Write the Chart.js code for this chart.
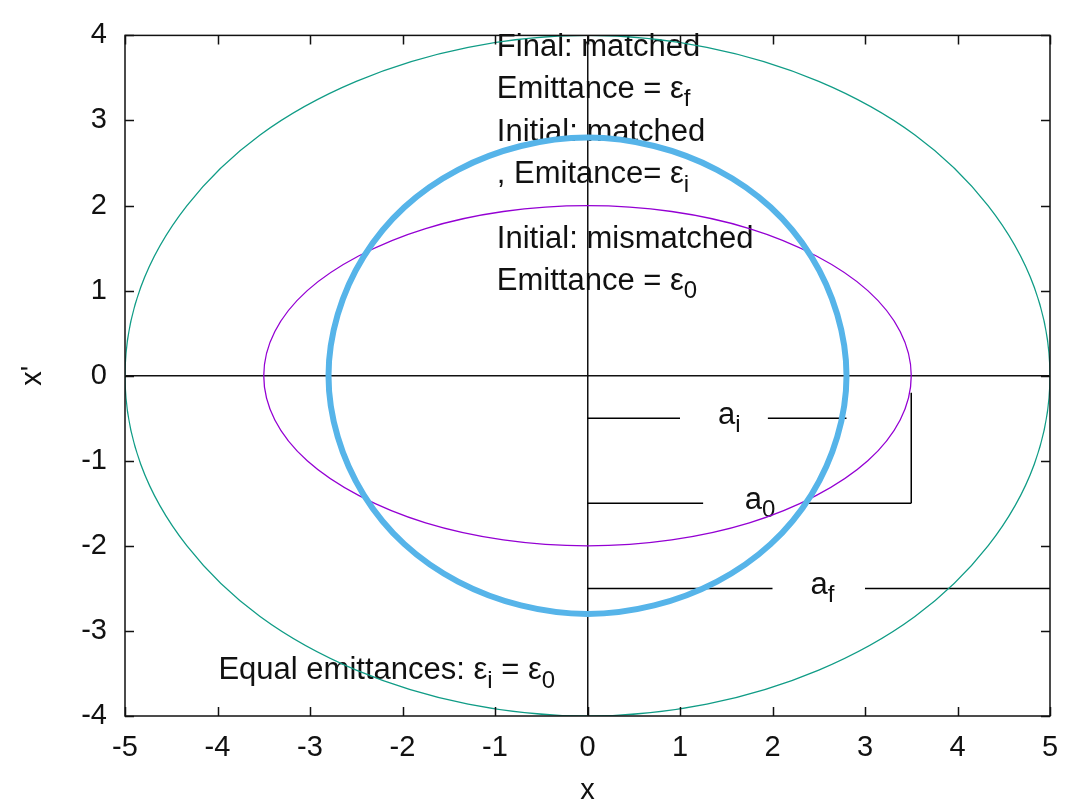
<!DOCTYPE html>
<html>
<head>
<meta charset="utf-8">
<script src="https://cdn.jsdelivr.net/npm/chart.js@4/dist/chart.umd.min.js"></script>
<style>
  body { margin: 0; background: #fff; }
  #wrap { width: 1078px; height: 805px; }
</style>
</head>
<body>
<div id="wrap"><canvas id="myChart"></canvas></div>
<script>
// ellipses (points every 15 deg, ends overlap to close the curve)
const finalX = [4.83, 5.00, 4.83, 4.33, 3.54, 2.50, 1.29, 0.00, -1.29, -2.50, -3.54, -4.33, -4.83, -5.00, -4.83, -4.33, -3.54, -2.50, -1.29, 0.00, 1.29, 2.50, 3.54, 4.33, 4.83, 5.00, 4.83];
const finalY = [-1.04, 0.00, 1.04, 2.00, 2.83, 3.46, 3.86, 4.00, 3.86, 3.46, 2.83, 2.00, 1.04, 0.00, -1.04, -2.00, -2.83, -3.46, -3.86, -4.00, -3.86, -3.46, -2.83, -2.00, -1.04, 0.00, 1.04];

const mismatchedX = [3.38, 3.50, 3.38, 3.03, 2.47, 1.75, 0.91, 0.00, -0.91, -1.75, -2.47, -3.03, -3.38, -3.50, -3.38, -3.03, -2.47, -1.75, -0.91, 0.00, 0.91, 1.75, 2.47, 3.03, 3.38, 3.50, 3.38];
const mismatchedY = [-0.52, 0.00, 0.52, 1.00, 1.41, 1.73, 1.93, 2.00, 1.93, 1.73, 1.41, 1.00, 0.52, 0.00, -0.52, -1.00, -1.41, -1.73, -1.93, -2.00, -1.93, -1.73, -1.41, -1.00, -0.52, 0.00, 0.52];

const matchedX = [2.70, 2.80, 2.70, 2.42, 1.98, 1.40, 0.72, 0.00, -0.72, -1.40, -1.98, -2.42, -2.70, -2.80, -2.70, -2.42, -1.98, -1.40, -0.72, 0.00, 0.72, 1.40, 1.98, 2.42, 2.70, 2.80, 2.70];
const matchedY = [-0.72, 0.00, 0.72, 1.40, 1.98, 2.42, 2.70, 2.80, 2.70, 2.42, 1.98, 1.40, 0.72, 0.00, -0.72, -1.40, -1.98, -2.42, -2.70, -2.80, -2.70, -2.42, -1.98, -1.40, -0.72, 0.00, 0.72];

// marker lines for a_i, a_0, a_f (pairs of x, pairs of y)
const markerX = [[0, 1.0], [1.95, 2.8], [0, 1.25], [2.38, 3.5], [3.5, 3.5], [0, 2.0], [3.0, 5.0]];
const markerY = [[-0.5, -0.5], [-0.5, -0.5], [-1.5, -1.5], [-1.5, -1.5], [-1.5, -0.2], [-2.5, -2.5], [-2.5, -2.5]];

const xTicks = [-5, -4, -3, -2, -1, 0, 1, 2, 3, 4, 5];
const yTicks = [-4, -3, -2, -1, 0, 1, 2, 3, 4];

// text: [string, isSubscript]
const notes = [
  { x: -0.98, y: 3.86, parts: [['Final: matched', false]] },
  { x: -0.98, y: 3.36, parts: [['Emittance = ε', false], ['f', true]] },
  { x: -0.98, y: 2.86, parts: [['Initial: matched', false]] },
  { x: -0.98, y: 2.36, parts: [[', Emitance= ε', false], ['i', true]] },
  { x: -0.98, y: 1.60, parts: [['Initial: mismatched', false]] },
  { x: -0.98, y: 1.11, parts: [['Emittance = ε', false], ['0', true]] },
  { x: 1.41, y: -0.47, parts: [['a', false], ['i', true]] },
  { x: 1.70, y: -1.47, parts: [['a', false], ['0', true]] },
  { x: 2.41, y: -2.47, parts: [['a', false], ['f', true]] },
  { x: -3.99, y: -3.47, parts: [['Equal emittances: ε', false], ['i', true], [' = ε', false], ['0', true]] }
];

const FONT = '"Liberation Sans", Arial, sans-serif';

const toPoints = (xs, ys) => xs.map((x, i) => ({ x: x, y: ys[i] }));

// closed curve: hide the first and last (overlapping) segments so the join is smooth
const curve = (xs, ys, color, width) => ({
  data: toPoints(xs, ys),
  borderColor: color,
  borderWidth: width,
  showLine: true,
  pointRadius: 0,
  tension: 0.35,
  fill: false,
  segment: {
    borderColor: (c) => (c.p0DataIndex === 0 || c.p1DataIndex === xs.length - 1) ? 'rgba(0,0,0,0)' : color
  }
});

const datasets = [
  curve(matchedX, matchedY, '#56b4e9', 6),
  curve(mismatchedX, mismatchedY, '#9400d3', 1.3),
  curve(finalX, finalY, '#109c86', 1.3)
];
for (var i = 0; i < markerX.length; i++) {
  datasets.push({
    data: toPoints(markerX[i], markerY[i]),
    borderColor: '#000',
    borderWidth: 1.5,
    showLine: true,
    pointRadius: 0,
    tension: 0
  });
}

const notesPlugin = {
  id: 'notes',
  beforeDatasetsDraw: (chart) => {
    const ctx = chart.ctx;
    const xs = chart.scales.x, ys = chart.scales.y;
    ctx.save();
    ctx.fillStyle = '#111';
    ctx.textBaseline = 'middle';
    ctx.textAlign = 'left';
    notes.forEach(n => {
      var px = xs.getPixelForValue(n.x);
      const py = ys.getPixelForValue(n.y);
      n.parts.forEach(p => {
        ctx.font = (p[1] ? '24px ' : '31px ') + FONT;
        ctx.fillText(p[0], px, p[1] ? py + 10 : py);
        px += ctx.measureText(p[0]).width;
      });
    });
    ctx.restore();
  }
};

const framePlugin = {
  id: 'frame',
  afterDraw: (chart) => {
    const ctx = chart.ctx;
    const a = chart.chartArea;
    const xs = chart.scales.x, ys = chart.scales.y;
    const len = 9;
    ctx.save();
    ctx.strokeStyle = '#111';
    ctx.lineWidth = 1.5;
    ctx.beginPath();
    xTicks.forEach(v => {
      const px = Math.round(xs.getPixelForValue(v)) + 0.5;
      ctx.moveTo(px, a.bottom); ctx.lineTo(px, a.bottom - len);
      ctx.moveTo(px, a.top); ctx.lineTo(px, a.top + len);
    });
    yTicks.forEach(v => {
      const py = Math.round(ys.getPixelForValue(v)) + 0.5;
      ctx.moveTo(a.left, py); ctx.lineTo(a.left + len, py);
      ctx.moveTo(a.right, py); ctx.lineTo(a.right - len, py);
    });
    ctx.stroke();
    ctx.strokeRect(a.left, a.top, a.right - a.left, a.bottom - a.top);
    ctx.restore();
  }
};

const zeroLine = (c) => c.tick && c.tick.value === 0 ? '#111' : 'rgba(0,0,0,0)';

const config = {
  type: 'scatter',
  data: { datasets: datasets },
  options: {
    responsive: true,
    maintainAspectRatio: false,
    animation: false,
    layout: { padding: { top: 23, right: 28, left: 0, bottom: 0 } },
    plugins: { legend: { display: false }, tooltip: { enabled: false } },
    scales: {
      x: {
        type: 'linear',
        min: -5, max: 5,
        afterFit: (s) => { s.height = 89; },
        afterBuildTicks: (s) => { s.ticks = xTicks.map(v => ({ value: v })); },
        grid: { color: zeroLine, lineWidth: 1.5, drawTicks: false },
        border: { display: false },
        ticks: { color: '#111', padding: 15, font: { family: FONT, size: 29 } },
        title: { display: true, text: 'x', color: '#111', padding: { top: 0, bottom: 0 }, font: { family: FONT, size: 29, lineHeight: 1 } }
      },
      y: {
        type: 'linear',
        min: -4, max: 4,
        afterFit: (s) => { s.width = 125; },
        afterBuildTicks: (s) => { s.ticks = yTicks.map(v => ({ value: v })); },
        grid: { color: zeroLine, lineWidth: 1.5, drawTicks: false },
        border: { display: false },
        ticks: { color: '#111', padding: 18, font: { family: FONT, size: 29 } },
        title: { display: true, text: "x'", color: '#111', padding: { top: 18, bottom: 0 }, font: { family: FONT, size: 29, lineHeight: 1 } }
      }
    }
  },
  plugins: [notesPlugin, framePlugin]
};

const myChart = new Chart(document.getElementById('myChart'), config);
</script>
</body>
</html>
